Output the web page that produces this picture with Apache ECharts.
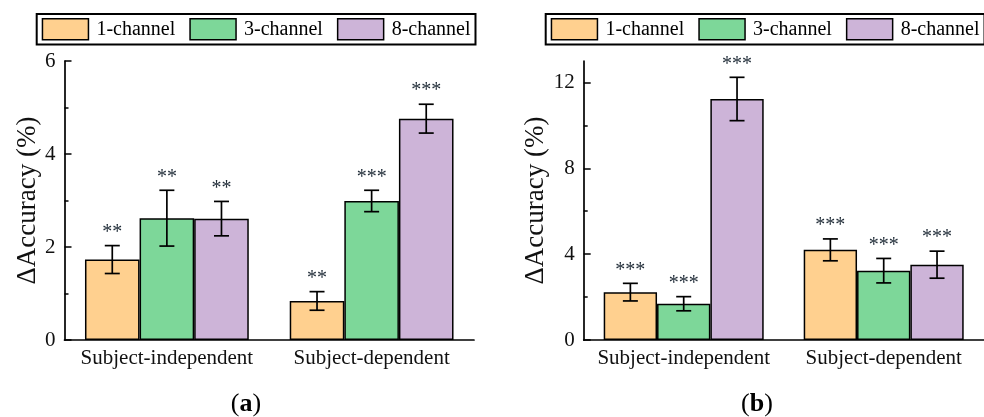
<!DOCTYPE html>
<html><head><meta charset="utf-8">
<script src="https://cdn.jsdelivr.net/npm/echarts@6/dist/echarts.min.js"></script>
<style>html,body{margin:0;padding:0;background:#fff}#c{width:984px;height:417px}</style>
</head><body><div id="c"></div>
<script>
// ---------- data ----------
const categories = ['Subject-independent', 'Subject-dependent'];
const seriesNames = ['1-channel', '3-channel', '8-channel'];

// Panel (a)
const a1 = [1.73, 0.84];  const a1Err = [0.30, 0.20];  const a1Sig = ['**', '**'];
const a3 = [2.62, 2.99];  const a3Err = [0.60, 0.23];  const a3Sig = ['**', '***'];
const a8 = [2.61, 4.76];  const a8Err = [0.37, 0.31];  const a8Sig = ['**', '***'];
const aMajorTicks = [0, 2, 4, 6];
const aMinorTicks = [1, 3, 5];

// Panel (b)
const b1 = [2.23, 4.20];  const b1Err = [0.41, 0.51];  const b1Sig = ['***', '***'];
const b3 = [1.69, 3.23];  const b3Err = [0.33, 0.57];  const b3Sig = ['***', '***'];
const b8 = [11.23, 3.51]; const b8Err = [1.01, 0.63];  const b8Sig = ['***', '***'];
const bMajorTicks = [0, 4, 8, 12];
const bMinorTicks = [2, 6, 10];

const panelLabels = ['a', 'b'];
const yName = 'ΔAccuracy (%)';

// ---------- styling ----------
const colors = ['#FFD08F', '#7DD799', '#CDB4D8'];
const FONT = '"Liberation Serif", "Times New Roman", serif';

function errRender(k, nSeries, sigArr) {
  return function (params, api) {
    const x = api.value(0), v = api.value(1), e = api.value(2);
    const band = api.size([1, 0])[0];
    const bw = band * 0.8 / nSeries;
    const cx = api.coord([x, v])[0] + (k - (nSeries - 1) / 2) * bw;
    const yHi = api.coord([x, v + e])[1];
    const yLo = api.coord([x, v - e])[1];
    const cap = 7.5;
    const ls = { stroke: '#000', lineWidth: 1.7 };
    return {
      type: 'group',
      children: [
        { type: 'line', shape: { x1: cx, y1: yHi, x2: cx, y2: yLo }, style: ls },
        { type: 'line', shape: { x1: cx - cap, y1: yHi, x2: cx + cap, y2: yHi }, style: ls },
        { type: 'line', shape: { x1: cx - cap, y1: yLo, x2: cx + cap, y2: yLo }, style: ls },
        { type: 'text', style: { text: sigArr[params.dataIndex], x: cx, y: yHi - 13,
            textAlign: 'center', textVerticalAlign: 'middle', align: 'center', verticalAlign: 'middle',
            font: '20px ' + FONT, fill: '#1e2a36' } }
      ]
    };
  };
}

function panelSeries(gridIdx, vals, errs, sigs) {
  const out = [];
  vals.forEach((v, k) => {
    out.push({
      type: 'bar', name: seriesNames[k], xAxisIndex: gridIdx, yAxisIndex: gridIdx * 2,
      data: v, barCategoryGap: '20%', barGap: '0%',
      itemStyle: { color: colors[k], borderColor: '#000', borderWidth: 1.5 },
      emphasis: { disabled: true }, z: 2
    });
  });
  vals.forEach((v, k) => {
    out.push({
      type: 'custom', xAxisIndex: gridIdx, yAxisIndex: gridIdx * 2, z: 5,
      renderItem: errRender(k, vals.length, sigs[k]),
      data: categories.map((c, i) => [i, v[i], errs[k][i]]),
      encode: { x: 0, y: 1 }, silent: true
    });
  });
  return out;
}

const legendCommon = {
  data: seriesNames, icon: 'rect', itemWidth: 46, itemHeight: 21, itemGap: 14,
  width: 440,
  padding: [4, 5, 4, 5], borderColor: '#000', borderWidth: 2, borderRadius: 0,
  selectedMode: false, orient: 'horizontal',
  itemStyle: { borderColor: '#000', borderWidth: 1.5 },
  textStyle: { fontFamily: FONT, fontSize: 20, color: '#000', padding: [0, 0, 0, 3] }
};

function xAxisCfg(gridIdx) {
  return {
    type: 'category', gridIndex: gridIdx, data: categories,
    axisLine: { lineStyle: { color: '#000', width: 1.7 } },
    axisTick: { show: false },
    axisLabel: { fontFamily: FONT, fontSize: 21, color: '#111', margin: 8, interval: 0 },
    splitLine: { show: false }
  };
}
function yAxisMain(gridIdx, max, interval, major, nameGap) {
  return {
    type: 'value', gridIndex: gridIdx, min: 0, max: max, interval: interval,
    name: yName, nameLocation: 'middle', nameGap: nameGap, nameRotate: 90,
    nameTextStyle: { fontFamily: FONT, fontSize: 27, color: '#111' },
    axisLine: { show: true, lineStyle: { color: '#000', width: 1.7 } },
    axisTick: { show: true, inside: true, length: 7, customValues: major, lineStyle: { color: '#000', width: 1.5 } },
    axisLabel: { fontFamily: FONT, fontSize: 21, color: '#111', margin: 9, customValues: major },
    splitLine: { show: false }
  };
}
function yAxisMinor(gridIdx, max, interval, minor) {
  return {
    type: 'value', gridIndex: gridIdx, min: 0, max: max, interval: interval, position: 'left',
    axisLine: { show: false },
    axisTick: { show: true, inside: true, length: 4, customValues: minor, lineStyle: { color: '#000', width: 1.5 } },
    axisLabel: { show: false }, splitLine: { show: false }
  };
}

function caption(x, letter) {
  return { type: 'text', x: x, y: 404, style: { text: '({b|' + letter + '})',
    rich: { b: { fontWeight: 'bold', fontSize: 26, fontFamily: FONT, fill: '#000' } },
    font: '26px ' + FONT, fill: '#000', textAlign: 'center', textVerticalAlign: 'middle',
    align: 'center', verticalAlign: 'middle' } };
}

const option = {
  animation: false,
  backgroundColor: '#fff',
  legend: [
    Object.assign({ left: 36.7, top: 14 }, legendCommon),
    Object.assign({ left: 545.7, top: 14 }, legendCommon)
  ],
  grid: [
    { left: 64.5, top: 61, width: 409.5, height: 279 },
    { left: 583.7, top: 61, width: 400, height: 279 }
  ],
  xAxis: [xAxisCfg(0), xAxisCfg(1)],
  yAxis: [
    yAxisMain(0, 6, 2, aMajorTicks, 22),
    yAxisMinor(0, 6, 2, aMinorTicks),
    yAxisMain(1, 13, 4, bMajorTicks, 33),
    yAxisMinor(1, 13, 4, bMinorTicks)
  ],
  series: [].concat(
    panelSeries(0, [a1, a3, a8], [a1Err, a3Err, a8Err], [a1Sig, a3Sig, a8Sig]),
    panelSeries(1, [b1, b3, b8], [b1Err, b3Err, b8Err], [b1Sig, b3Sig, b8Sig])
  ),
  graphic: [caption(246, panelLabels[0]), caption(757, panelLabels[1])]
};

const chart = echarts.init(document.getElementById('c'), null, { renderer: 'canvas' });
chart.setOption(option);
</script>
</body></html>
